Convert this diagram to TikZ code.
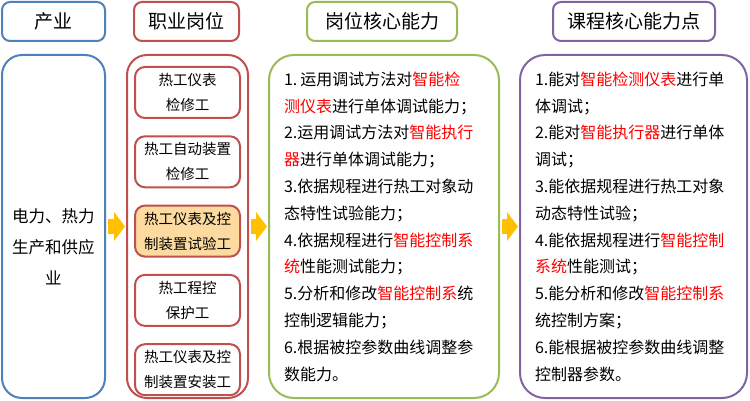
\documentclass[tikz,border=0pt]{standalone}
\usepackage{fontspec}
\setmainfont{Noto Sans CJK SC}
\usepackage{tikz}
\usetikzlibrary{arrows.meta,positioning}
\usepackage{xcolor}
\definecolor{indblue}{HTML}{4F81BD}
\definecolor{jobred}{HTML}{C0504D}
\definecolor{abigreen}{HTML}{9BBB59}
\definecolor{coupurple}{HTML}{8064A2}
\definecolor{hlorange}{HTML}{FDDAA0}
\definecolor{arrowgold}{HTML}{FFC000}
\definecolor{keyred}{HTML}{FF0000}
\newcommand{\kw}[1]{\textcolor{keyred}{#1}}
\tikzset{
  headbox/.style={draw=#1, line width=2pt, rounded corners=8pt, align=center, minimum height=39pt, inner sep=0pt, font=\fontsize{19}{22}\selectfont},
  bigbox/.style={draw=#1, line width=2pt, rounded corners=20pt, minimum height=343pt, inner sep=0pt},
  textbox/.style={draw=#1, line width=2pt, rounded corners=25pt, minimum height=343pt, inner xsep=15pt, inner ysep=0pt, align=left, font=\fontsize{16}{26.8}\selectfont},
  jobbox/.style={draw=jobred, line width=2pt, rounded corners=10pt, align=center, minimum width=105pt, minimum height=51pt, inner sep=0pt, font=\fontsize{14.5}{25}\selectfont},
  jobboxhl/.style={jobbox, fill=hlorange},
  blockarrow/.style={-{Triangle[length=11pt,width=29pt,line width=0pt]}, line width=15pt, draw=arrowgold, shorten <=2pt, shorten >=1pt}
}
\begin{document}
\begin{tikzpicture}[x=1pt, y=-1pt, node distance=16.3pt]
\useasboundingbox (0,0) rectangle (750,401);
% headers
\node[headbox=indblue, minimum width=103pt] (indhead) at (53.5,21.5) {产业};
\node[headbox=jobred, minimum width=105pt] (jobhead) at (186.5,21.5) {职业岗位};
\node[headbox=abigreen, minimum width=150pt] (abihead) at (382,21.5) {岗位核心能力};
\node[headbox=coupurple, minimum width=162pt] (couhead) at (634,21.5) {课程核心能力点};
% industry
\node[bigbox=indblue, minimum width=103pt] (ind) at (53.5,226.5) {};
\node[align=center, font=\fontsize{16.5}{31}\selectfont] (indtext) at ([yshift=-20pt]ind.center) {电力、热力\\生产和供应\\业};
% jobs
\node[bigbox=jobred, minimum width=121pt] (job) at (187.5,226.5) {};
\node[jobbox] (job1) at (187.5,92.5) {热工仪表\\检修工};
\node[jobbox, below=of job1] (job2) {热工自动装置\\检修工};
\node[jobboxhl, below=of job2] (job3) {热工仪表及控\\制装置试验工};
\node[jobbox, below=of job3] (job4) {热工程控\\保护工};
\node[jobbox, below=of job4] (job5) {热工仪表及控\\制装置安装工};
% abilities
\node[textbox=abigreen, text width=200pt] (abi) at (384,226.5) {1.\hspace{3pt}运用调试方法对\kw{智能检}\\
\kw{测仪表}进行单体调试能力；\\
2.运用调试方法对\kw{智能执行}\\
\kw{器}进行单体调试能力；\\
3.依据规程进行热工对象动\\
态特性试验能力；\\
4.依据规程进行\kw{智能控制系}\\
\kw{统}性能测试能力；\\
5.分析和修改\kw{智能控制系}统\\
控制逻辑能力；\\
6.根据被控参数曲线调整参\\
数能力。};
% course points
\node[textbox=coupurple, text width=197pt] (cou) at (633.5,226.5) {1.能对\kw{智能检测仪表}进行单\\
体调试；\\
2.能对\kw{智能执行器}进行单体\\
调试；\\
3.能依据规程进行热工对象\\
动态特性试验；\\
4.能依据规程进行\kw{智能控制}\\
\kw{系统}性能测试；\\
5.能分析和修改\kw{智能控制系}\\
统控制方案；\\
6.能根据被控参数曲线调整\\
控制器参数。};
\draw[blockarrow] (ind) -- (job);
\draw[blockarrow] (job) -- (abi);
\draw[blockarrow] (abi) -- (cou);
\end{tikzpicture}
\end{document}
